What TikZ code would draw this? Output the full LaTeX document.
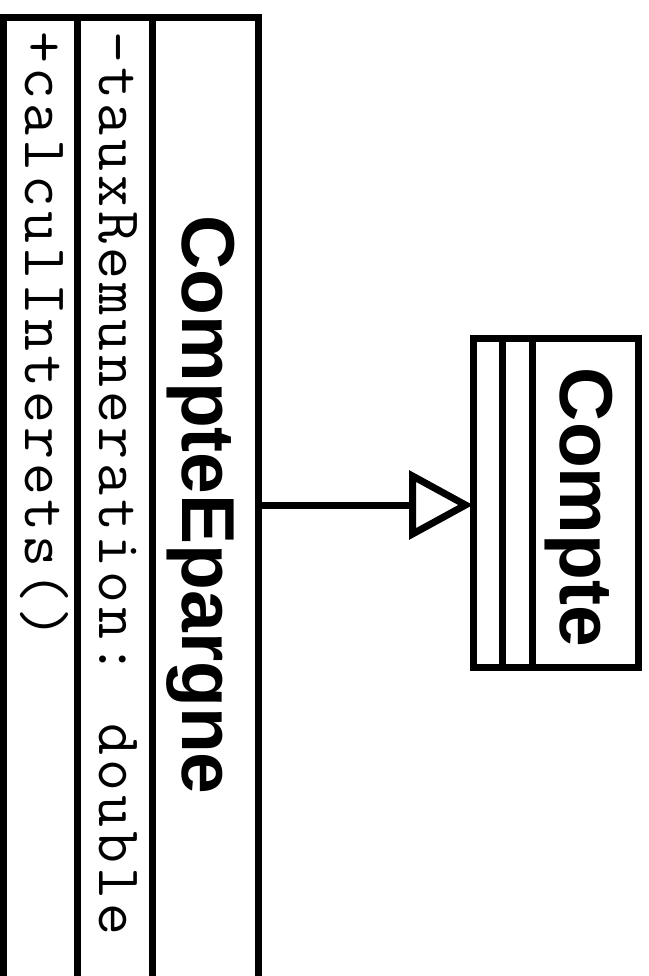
\documentclass[tikz,border=0pt]{standalone}
\usepackage{fontspec}
\newfontfamily\umlsans{Liberation Sans}
\newfontfamily\umlmono{Latin Modern Mono}[LetterSpace=6.6]
\usetikzlibrary{arrows.meta}
\begin{document}
\begin{tikzpicture}[x=1pt, y=-1pt, line width=7pt,
    >={Triangle[open, length=64pt, width=68pt]},
    classbox/.style={draw, rectangle, outer sep=0pt, inner sep=0pt, anchor=north west},
    classname/.style={font=\umlsans\bfseries\fontsize{75}{90}\selectfont, inner sep=0pt, anchor=base, rotate=-90},
    member/.style={font=\umlmono\fontsize{62}{74}\selectfont, inner sep=0pt, anchor=base west, rotate=-90}]
    \useasboundingbox (0,0) rectangle (648,976);
    \node[classbox, minimum width=255pt, minimum height=974pt] (epargne) at (3,18) {};
    \node[classbox, minimum width=165pt, minimum height=329pt] (compte) at (473,338) {};
    \draw (77,18) -- (77,992) (152,18) -- (152,992);
    \draw (502,338) -- (502,667) (532,338) -- (532,667);
    \node[classname] (epargne-name) at (182,505) {CompteEpargne};
    \node[member] (epargne-attr) at (99,28) {-tauxRemuneration: double};
    \node[member] (epargne-op) at (25,28) {+calculInterets()};
    \node[classname] (compte-name) at (560,507.5) {Compte};
    \draw[->] (epargne.east) -- (epargne.east -| compte.west);
\end{tikzpicture}
\end{document}
